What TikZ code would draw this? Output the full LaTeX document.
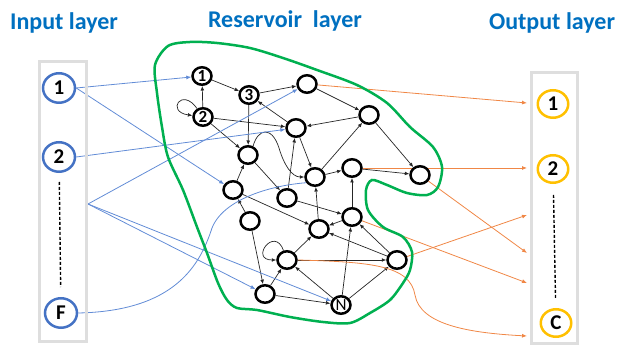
\documentclass[tikz,border=0pt]{standalone}
\usepackage{fontspec}
\setmainfont{Carlito}
\usetikzlibrary{arrows.meta, shapes.geometric, backgrounds}
\definecolor{titleblue}{RGB}{0,112,192}
\definecolor{inblue}{RGB}{68,114,196}
\definecolor{lineblue}{RGB}{98,140,214}
\definecolor{lineorange}{RGB}{240,135,70}
\definecolor{outyellow}{RGB}{255,192,0}
\definecolor{blobgreen}{RGB}{0,176,80}
\definecolor{boxgray}{RGB}{222,222,222}

\begin{document}
\begin{tikzpicture}[x=1pt, y=1pt,
        res/.style={draw, ellipse, line width=2.5pt, minimum width=19pt, minimum height=17.5pt, inner sep=0pt, fill=white, font=\bfseries\fontsize{17}{17}\selectfont},
        inp/.style={draw=inblue, ellipse, line width=2.5pt, minimum width=32pt, minimum height=29.5pt, inner sep=0pt, fill=white, font=\bfseries\fontsize{21}{21}\selectfont},
        outp/.style={inp, draw=outyellow, minimum width=30.5pt, minimum height=27.5pt},
        layerbox/.style={draw=boxgray, line width=3pt},
        title/.style={anchor=base, text=titleblue, font=\bfseries\fontsize{24}{24}\selectfont},
        arrow/.style={-{Latex[length=4.5pt, width=3.8pt]}, line width=0.7pt, black!85},
        inarrow/.style={-{Latex[length=5pt, width=4pt]}, line width=0.8pt, lineblue},
        outarrow/.style={-{Latex[length=5pt, width=4pt]}, line width=0.8pt, lineorange},
        dashline/.style={dash pattern=on 3pt off 2pt, line width=1.4pt}
    ]
        \useasboundingbox (0,0) rectangle (623,358);

        % Titles
        \node[title] (tin) at (64,328) {Input layer};
        \node[title] (tres) at (285,330) {Reservoir\ \ layer};
        \node[title] (tout) at (552,328) {Output layer};

        % Layer boxes
        \draw[layerbox] (39,296) rectangle (86,16);
        \draw[layerbox] (531,285) rectangle (577,14);

        % Reservoir boundary
        \draw[blobgreen, line width=2.5pt] plot[smooth cycle] coordinates {
            (155,293) (168,312) (190,316) (217,315) (250,310) (283,300) (317,288)
            (357,273) (387,255) (410,231) (433,211) (442,191) (438,171) (427,163)
            (407,165) (387,173) (372,178) (366,168) (368,148) (383,131) (403,121)
            (412,106) (410,88) (403,75) (390,58) (370,45) (350,35) (323,36)
            (290,41) (257,48) (237,50) (227,58) (218,75) (207,105) (197,131)
            (183,168) (168,201) (162,231) (157,265)};

        % Input nodes
        \node[inp] (in1) at (59,270) {1};
        \node[inp] (in2) at (59,201) {2};
        \node[inp] (inF) at (61,45) {F};
        \coordinate (jin) at (88,154);

        % Output nodes
        \node[outp] (out1) at (553,254) {1};
        \node[outp] (out2) at (553,189) {2};
        \node[outp] (outC) at (556,35) {C};
        \coordinate (e1) at (527,255);
        \coordinate (e2) at (527,190);
        \coordinate (ea) at (527,143);
        \coordinate (eb) at (527,105);
        \coordinate (ec) at (527,75);
        \coordinate (eC) at (527,22);

        % Reservoir nodes
        \node[res] (r1) at (202,282) {1};
        \node[res] (r2) at (203,241) {2};
        \node[res] (r3) at (249,263) {3};
        \node[res] (ra) at (307,274) {};
        \node[res] (rb) at (296,230) {};
        \node[res] (rc) at (248,203) {};
        \node[res] (rd) at (369,243) {};
        \node[res] (re) at (315,181) {};
        \node[res] (rf) at (352,190) {};
        \node[res] (rg) at (233,168) {};
        \node[res] (rh) at (287,160) {};
        \node[res] (ri) at (420,183) {};
        \node[res] (rj) at (250,137) {};
        \node[res] (rk) at (352,141) {};
        \node[res] (rl) at (319,129) {};
        \node[res] (rm) at (287,98) {};
        \node[res] (ro) at (397,98) {};
        \node[res] (rp) at (265,64) {};
        \node[res, font=\fontsize{17}{17}\selectfont] (rN) at (341,53) {N};

        % Dashed gaps
        \draw[dashline, shorten <=9pt, shorten >=10pt] (in2) -- (inF);
        \draw[dashline, shorten <=11pt, shorten >=10pt] (out2) -- (outC);

        \begin{scope}[on background layer]
        % Reservoir arrows
        \draw[arrow] (r2) -- (r1);
        \draw[arrow] (r2) to[out=125, in=172, distance=27pt] (r2);
        \draw[arrow] (r1) -- (r3);
        \draw[arrow] (r3) -- (ra);
        \draw[arrow] (r2) -- (rb);
        \draw[arrow] (rb) -- (r3);
        \draw[arrow] (r3) -- (rc);
        \draw[arrow] (r2) -- (rc);
        \draw[arrow] (rg) -- (rc);
        \draw[arrow] (rc.60) .. controls (258,230) and (272,232) .. (279,210)
            .. controls (284,193) and (292,181) .. (re.west);
        \draw[arrow] (rd) -- (rb);
        \draw[arrow] (ra) -- (rd);
        \draw[arrow] (rb) -- (re);
        \draw[arrow] (re) -- (rd);
        \draw[arrow] (re) -- (rf);
        \draw[arrow] (rf) -- (ri);
        \draw[arrow] (rd) -- (ri);
        \draw[arrow] (rh) -- (rb);
        \draw[arrow] (rc) -- (rh);
        \draw[arrow] (rg) -- (rl);
        \draw[arrow] (rh) -- (rk);
        \draw[arrow] (rk) -- (rf);
        \draw[arrow] (rl) -- (re);
        \draw[arrow] (rk) -- (rl);
        \draw[arrow] (ro) -- (rl);
        \draw[arrow] (ro) -- (rk);
        \draw[arrow] (rN) -- (rk);
        \draw[arrow] (rN) -- (ro);
        \draw[arrow] (rN) -- (rm);
        \draw[arrow] (rm) -- (rl);
        \draw[arrow] (rm) to[out=110, in=180, distance=27pt] (rm);
        \draw[arrow] (rm) -- (ro);
        \draw[arrow] (rp) -- (rm);
        \draw[arrow] (rj) -- (rp);
        \draw[arrow] (rp) -- (rN);
        \draw[arrow] (rj) -- (rg);

        % Input arrows
        \draw[inarrow] (in1.east) -- (r1);
        \draw[inarrow] (in1.east) -- (rg);
        \draw[inarrow] (in2.east) -- (rb);
        \draw[inarrow] (jin) -- (ra);
        \draw[inarrow] (jin) -- (rp);
        \draw[inarrow] (jin) -- (rN);
        \draw[inarrow] (inF.east) .. controls (175,47) and (200,93) .. (212,130)
            .. controls (225,163) and (285,176) .. (re.-30);

        % Output arrows
        \draw[outarrow] (ra) -- (e1);
        \draw[outarrow] (rf) -- (e2);
        \draw[outarrow] (ro) -- (ea);
        \draw[outarrow] (ri) -- (eb);
        \draw[outarrow] (rk) -- (ec);
        \draw[outarrow] (rm.east) .. controls (370,96) and (410,93) .. (415,63)
            .. controls (420,33) and (470,25) .. (eC);
        \end{scope}
    \end{tikzpicture}
\end{document}
